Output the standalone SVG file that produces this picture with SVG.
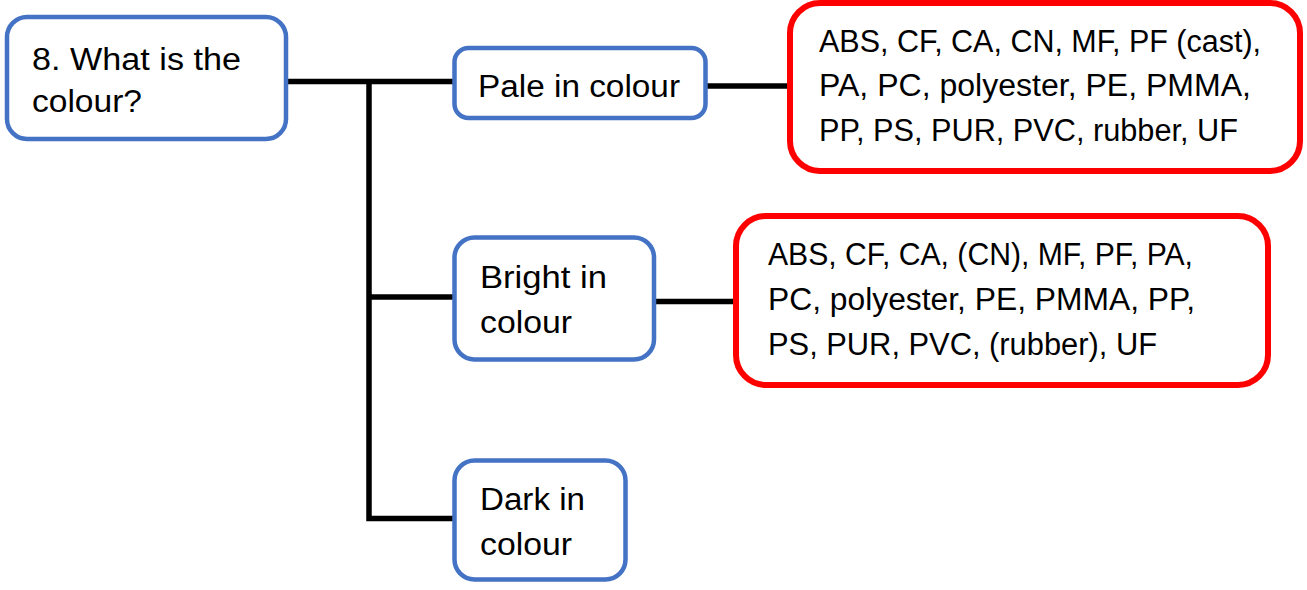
<svg xmlns="http://www.w3.org/2000/svg" width="1307" height="590" viewBox="0 0 1307 590">
<style>
.q{fill:#fff;stroke:#4472C4;stroke-width:4.5}
.r{fill:#fff;stroke:#FF0000;stroke-width:6}
.t{font-family:"Liberation Sans",Arial,sans-serif;font-size:31px;fill:#000}
.c{fill:none;stroke:#000;stroke-width:5.5}
</style>
<rect width="1307" height="590" fill="#fff"/>
<g id="connectors">
<path class="c" d="M286 81.5H455M369 81.5V518.5H455M369 297H455M654 301.5H736M706 86H790"/>
</g>
<g id="question">
<rect class="q" x="7" y="17" width="279" height="122" rx="20"/>
<text class="t" x="32" y="70" textLength="209" lengthAdjust="spacingAndGlyphs">8. What is the</text>
<text class="t" x="32" y="112" textLength="110" lengthAdjust="spacingAndGlyphs">colour?</text>
</g>
<g id="pale">
<rect class="q" x="454.5" y="48" width="251" height="70" rx="14"/>
<text class="t" x="478" y="97" textLength="202" lengthAdjust="spacingAndGlyphs">Pale in colour</text>
</g>
<g id="bright">
<rect class="q" x="454.5" y="237.5" width="199.5" height="122" rx="20"/>
<text class="t" x="480" y="288" textLength="127" lengthAdjust="spacingAndGlyphs">Bright in</text>
<text class="t" x="480" y="333" textLength="92" lengthAdjust="spacingAndGlyphs">colour</text>
</g>
<g id="dark">
<rect class="q" x="454.5" y="460.5" width="171" height="119" rx="20"/>
<text class="t" x="480" y="510" textLength="105" lengthAdjust="spacingAndGlyphs">Dark in</text>
<text class="t" x="480" y="555" textLength="92" lengthAdjust="spacingAndGlyphs">colour</text>
</g>
<g id="pale-list">
<rect class="r" x="790" y="3" width="510" height="168" rx="30"/>
<text class="t" x="819" y="52" textLength="442" lengthAdjust="spacingAndGlyphs">ABS, CF, CA, CN, MF, PF (cast),</text>
<text class="t" x="819" y="96" textLength="432" lengthAdjust="spacingAndGlyphs">PA, PC, polyester, PE, PMMA,</text>
<text class="t" x="819" y="141" textLength="419" lengthAdjust="spacingAndGlyphs">PP, PS, PUR, PVC, rubber, UF</text>
</g>
<g id="bright-list">
<rect class="r" x="736" y="216" width="532" height="169" rx="30"/>
<text class="t" x="768" y="265" textLength="425" lengthAdjust="spacingAndGlyphs">ABS, CF, CA, (CN), MF, PF, PA,</text>
<text class="t" x="768" y="310" textLength="427" lengthAdjust="spacingAndGlyphs">PC, polyester, PE, PMMA, PP,</text>
<text class="t" x="768" y="355" textLength="389" lengthAdjust="spacingAndGlyphs">PS, PUR, PVC, (rubber), UF</text>
</g>
</svg>
